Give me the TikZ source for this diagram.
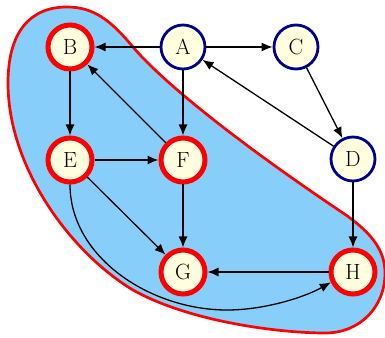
\documentclass[tikz,border=0pt]{standalone}
\usetikzlibrary{arrows.meta}
\definecolor{nodefill}{RGB}{255,255,224}
\definecolor{navyblue}{RGB}{0,0,139}
\definecolor{blobfill}{RGB}{135,206,250}
\begin{document}
\begin{tikzpicture}[x=1pt,y=1pt,
  vert/.style={circle,minimum size=44pt,inner sep=0pt,fill=nodefill,
    font=\fontsize{22}{26}\selectfont},
  bluev/.style={vert,draw=navyblue,line width=2.8pt},
  redv/.style={vert,draw=red,line width=5pt},
  arr/.style={line width=1.3pt,-{Latex[length=11pt,width=9pt]}},
  blob/.style={draw=red,line width=2.7pt,fill=blobfill}]
\useasboundingbox (0,0) rectangle (385,337);
\draw[blob] (8,254) .. controls (8,305) and (30,330) .. (67,330)
  .. controls (95,330) and (112,315) .. (133,290)
  .. controls (160,258) and (230,200) .. (340,126)
  .. controls (370,106) and (385,88) .. (385,64)
  .. controls (385,30) and (360,4) .. (325,4)
  .. controls (280,4) and (190,15) .. (133,47)
  .. controls (70,85) and (8,170) .. (8,254) -- cycle;
\node[redv]  (B) at (70,290)  {B};
\node[bluev] (A) at (183,290) {A};
\node[bluev] (C) at (296,290) {C};
\node[redv]  (E) at (70,177)  {E};
\node[redv]  (F) at (183,177) {F};
\node[bluev] (D) at (353,178) {D};
\node[redv]  (G) at (183,65)  {G};
\node[redv]  (H) at (353,65)  {H};
\coordinate (eh) at (227,27);
\draw[arr] (A) -- (B);
\draw[arr] (A) -- (C);
\draw[arr] (A) -- (F);
\draw[arr] (C) -- (D);
\draw[arr] (D) -- (A);
\draw[arr] (D) -- (H);
\draw[arr] (B) -- (E);
\draw[arr] (F) -- (B);
\draw[arr] (E) -- (F);
\draw[arr] (E) -- (G);
\draw[arr] (F) -- (G);
\draw[arr] (H) -- (G);
\draw[arr] (E.south) .. controls (70,80) and (150,27) .. (eh)
  .. controls (265,27) and (305,40) .. (H.205);
\end{tikzpicture}
\end{document}
